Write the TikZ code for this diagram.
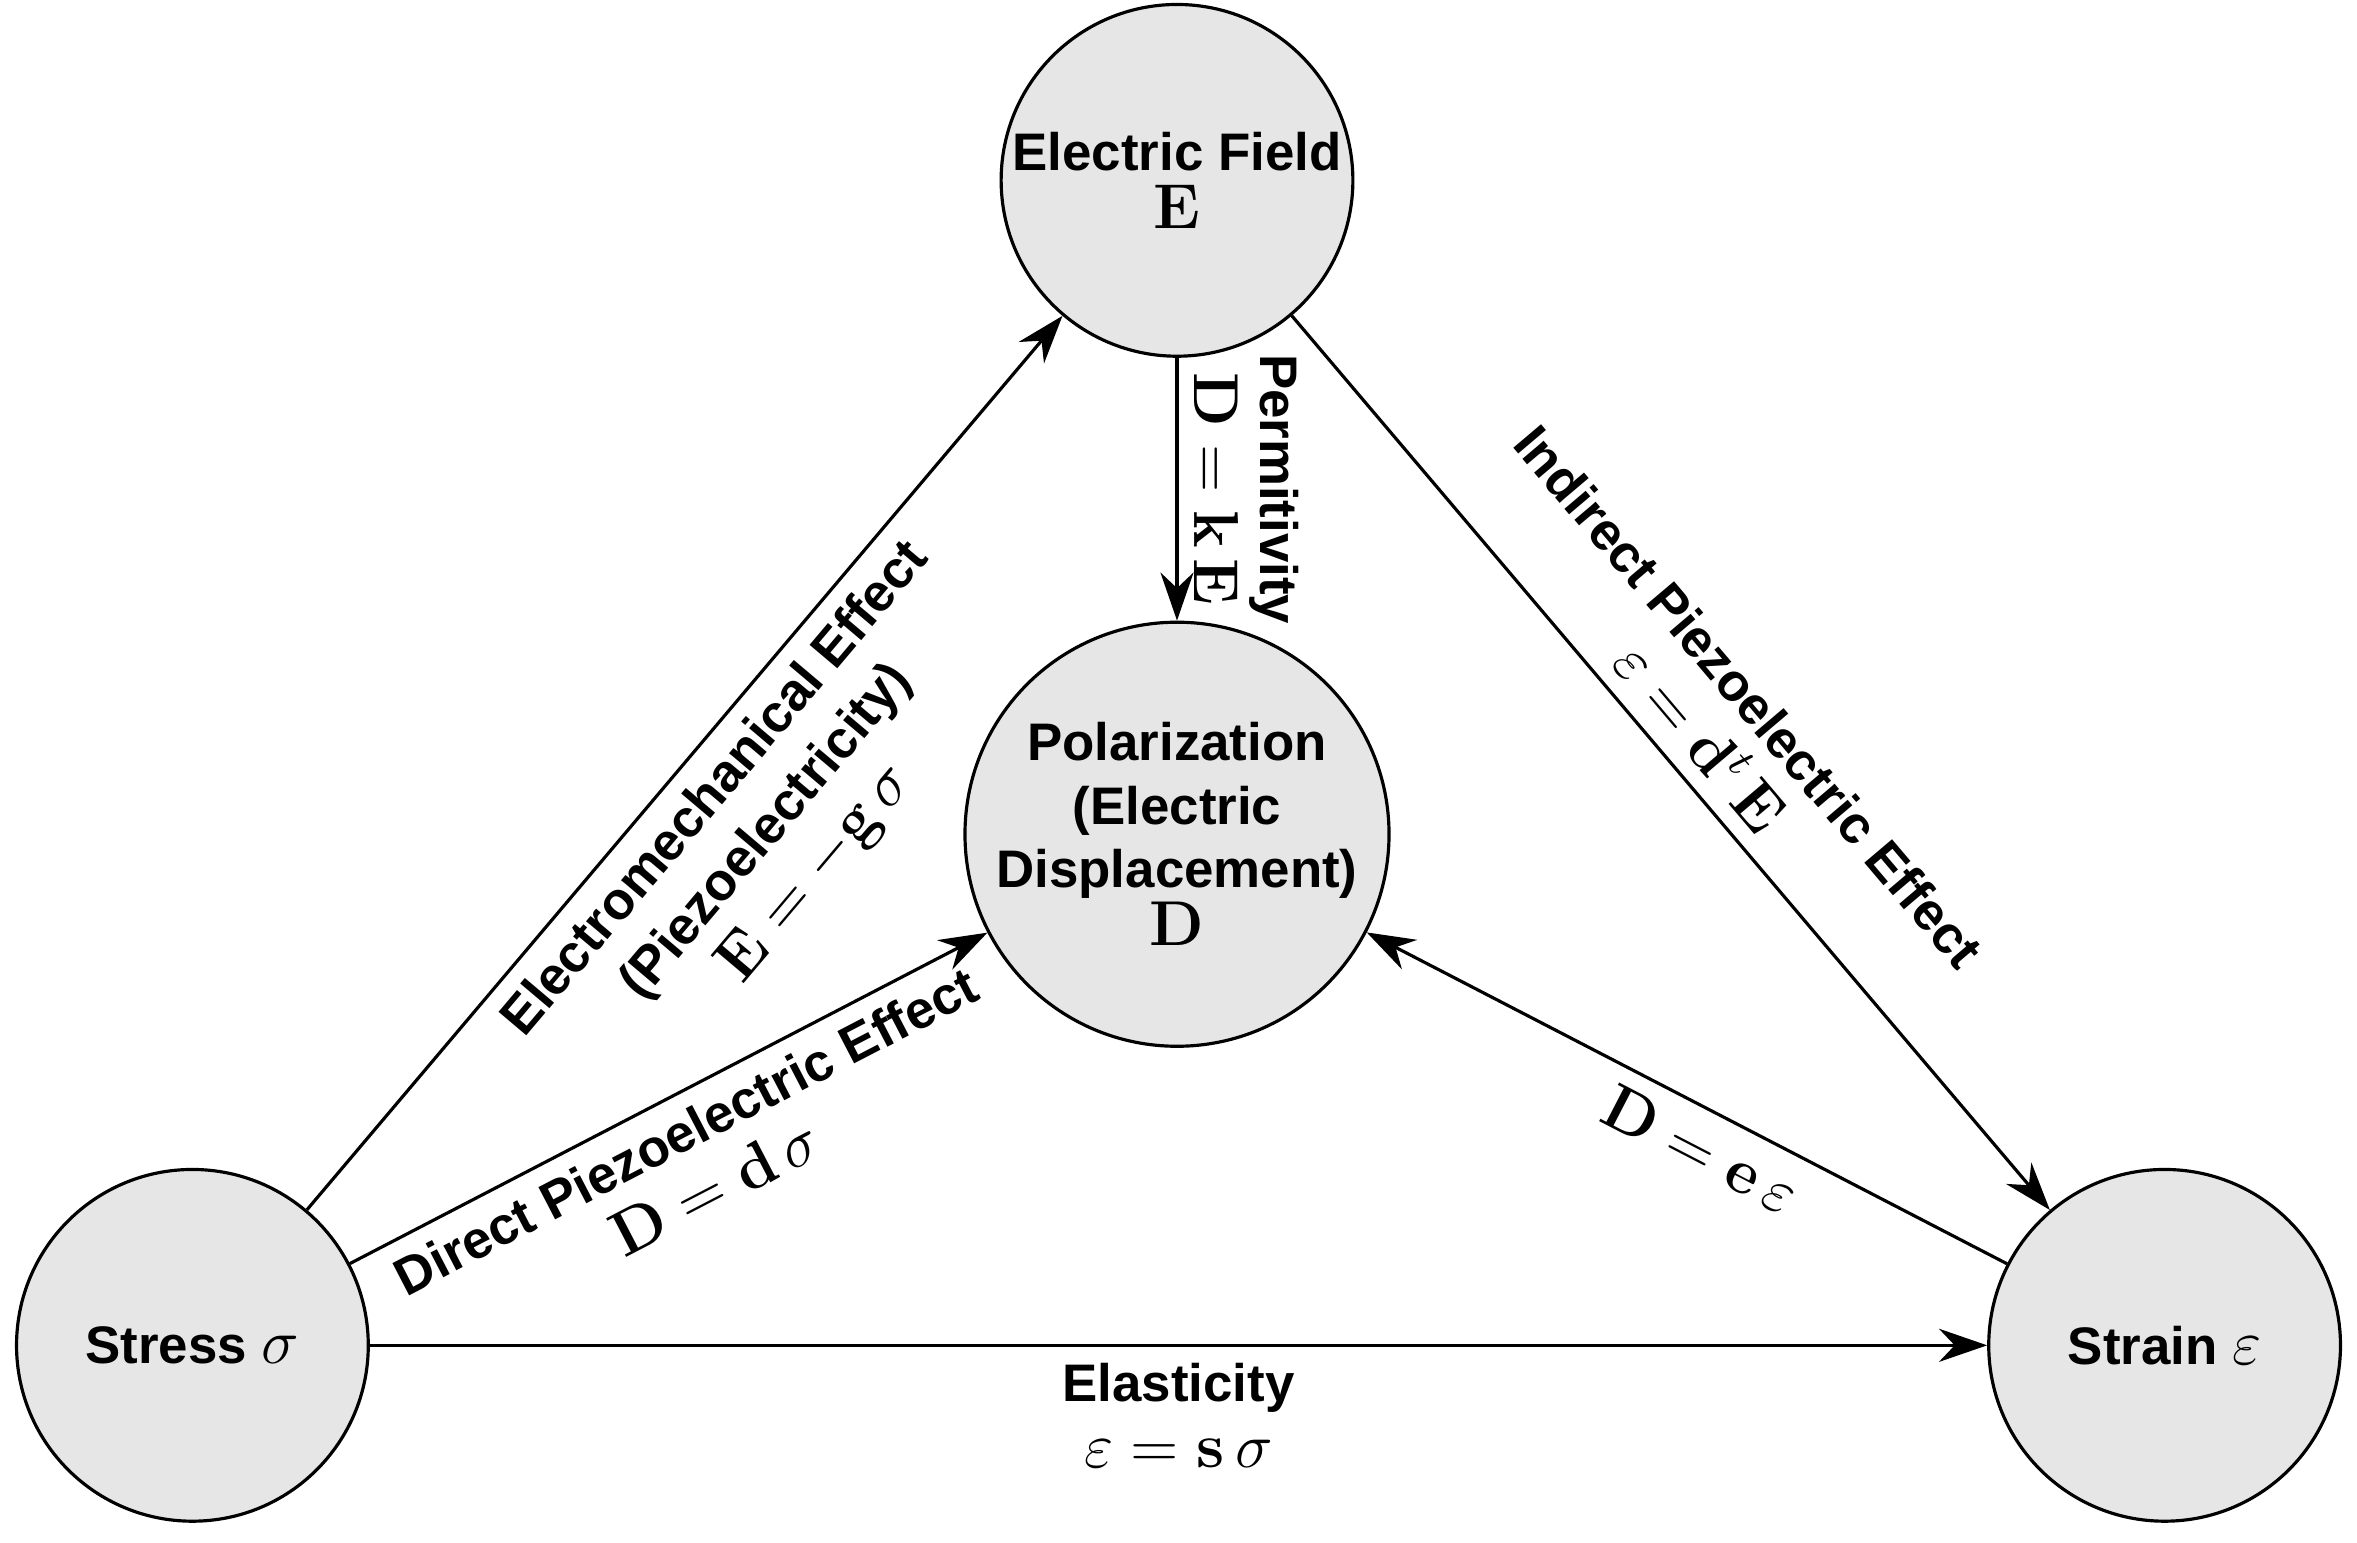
\documentclass[tikz,border=0pt]{standalone}
\usepackage{amsmath}
\usepackage[no-math]{fontspec}
\setmainfont{Liberation Sans}
\usetikzlibrary{arrows.meta}
\definecolor{nodegray}{HTML}{E6E6E6}
\begin{document}
\begin{tikzpicture}[main/.style = {draw, circle, fill=nodegray, line width=0.6pt, inner sep=0pt, align=center, font=\fontsize{10}{12}\selectfont\bfseries},
 lab/.style = {align=center, font=\fontsize{10}{12.5}\selectfont\bfseries, inner sep=3pt},
 arr/.style = {-{Stealth[length=3.2mm,width=2.2mm]}, line width=0.6pt}]
\useasboundingbox (0,0) rectangle (15.68,10.26);
\node[main, minimum size=2.34cm] (field) at (7.83,9.06) {Electric Field\\[-1pt]{\large$\mathbf{E}$}};
\node[main, minimum size=2.74cm] (pol) at (7.83,4.71) {Polarization\\(Electric\\Displacement)\\[-1pt]{\large$\mathbf{D}$}};
\node[main, minimum size=2.34cm] (stress) at (1.28,1.31) {Stress {\large$\sigma$}};
\node[main, minimum size=2.34cm] (strain) at (14.40,1.31) {Strain {\large$\varepsilon$}};
\draw[arr] (stress) -- node[lab, sloped, below, pos=0.5] {Electromechanical Effect\\(Piezoelectricity)\\{\large$\mathbf{E}=-\mathbf{g}\,\sigma$}} (field);
\draw[arr] (field) -- node[lab, sloped, above] {Permitivity\\{\large$\mathbf{D}=\mathbf{k}\,\mathbf{E}$}} (pol);
\draw[arr] (field) -- node[lab, sloped, above, pos=0.5] {Indirect Piezoelectric Effect\\{\large$\varepsilon=\mathbf{d}^t\,\mathbf{E}$}} (strain);
\draw[arr] (stress) -- node[lab, sloped, below, pos=0.5] {Direct Piezoelectric Effect\\{\large$\mathbf{D}=\mathbf{d}\,\sigma$}} (pol);
\draw[arr, {Stealth[length=3.2mm,width=2.2mm]}-] (pol) -- node[lab, sloped, below, pos=0.55] {{\large$\mathbf{D}=\mathbf{e}\,\varepsilon$}} (strain);
\draw[arr] (stress) -- node[lab, below] {Elasticity\\{\large$\varepsilon=\mathbf{s}\,\sigma$}} (strain);
\end{tikzpicture}
\end{document}
